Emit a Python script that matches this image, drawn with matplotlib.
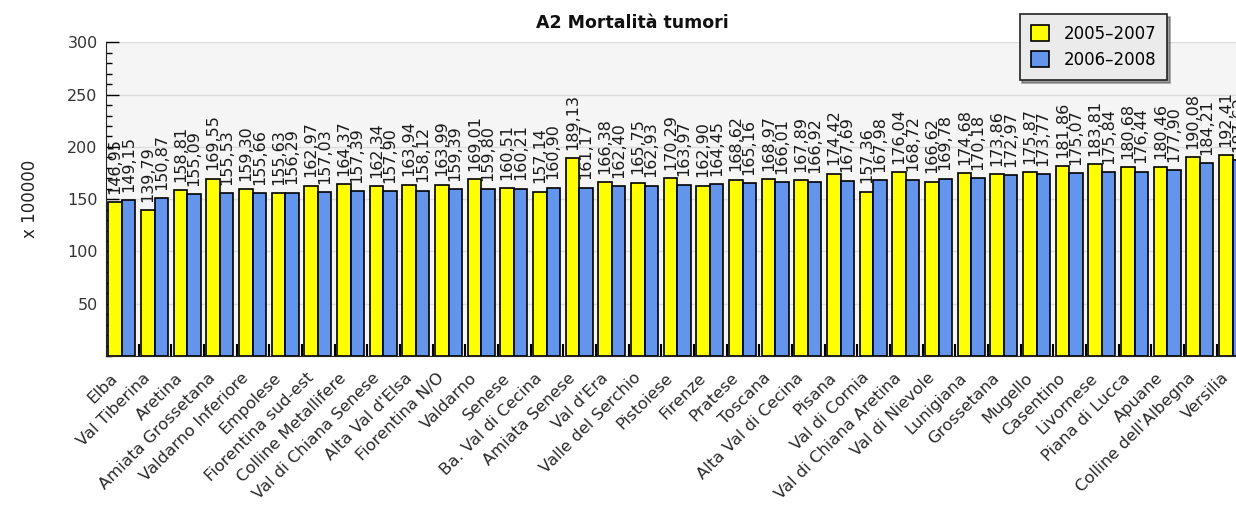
import numpy as np
from matplotlib import pyplot as plt
from matplotlib.ticker import MultipleLocator, FixedLocator
from matplotlib.transforms import ScaledTranslation

# data
zones = ["Elba", "Val Tiberina", "Aretina", "Amiata Grossetana", "Valdarno Inferiore",
         "Empolese", "Fiorentina sud-est", "Colline Metallifere", "Val di Chiana Senese",
         "Alta Val d'Elsa", "Fiorentina N/O", "Valdarno", "Senese", "Ba. Val di Cecina",
         "Amiata Senese", "Val d'Era", "Valle del Serchio", "Pistoiese", "Firenze",
         "Pratese", "Toscana", "Alta Val di Cecina", "Pisana", "Val di Cornia",
         "Val di Chiana Aretina", "Val di Nievole", "Lunigiana", "Grossetana", "Mugello",
         "Casentino", "Livornese", "Piana di Lucca", "Apuane", "Colline dell'Albegna",
         "Versilia"]
rate_0507 = [146.95, 139.79, 158.81, 169.55, 159.30, 155.63, 162.97, 164.37, 162.34,
             163.94, 163.99, 169.01, 160.51, 157.14, 189.13, 166.38, 165.75, 170.29,
             162.90, 168.62, 168.97, 167.89, 174.42, 157.36, 176.04, 166.62, 174.68,
             173.86, 175.87, 181.86, 183.81, 180.68, 180.46, 190.08, 192.41]
rate_0608 = [149.15, 150.87, 155.09, 155.53, 155.66, 156.29, 157.03, 157.39, 157.90,
             158.12, 159.39, 159.80, 160.21, 160.90, 161.17, 162.40, 162.93, 163.97,
             164.45, 165.16, 166.01, 166.92, 167.69, 167.98, 168.72, 169.78, 170.18,
             172.97, 173.77, 175.07, 175.84, 176.44, 177.90, 184.21, 187.62]
series_names = ["2005\u20132007", "2006\u20132008"]
yellow = "#ffff00"
blue = "#6495ed"

fig = plt.figure(figsize=(12.36, 5.15), dpi=100)
ax = fig.add_axes([0.0858, 0.3087, 0.925, 0.609])
ax.set_facecolor("#f5f5f5")

x = np.arange(len(zones))
w = 0.41
b1 = ax.bar(x - 0.22, rate_0507, w, color=yellow, edgecolor="black", linewidth=1.2,
            label=series_names[0], zorder=3)
b2 = ax.bar(x + 0.19, rate_0608, w, color=blue, edgecolor="black", linewidth=1.2,
            label=series_names[1], zorder=3)

# rotated value labels, italian decimal comma
for bars, vals in ((b1, rate_0507), (b2, rate_0608)):
    for r, v in zip(bars, vals):
        ax.annotate(f"{v:.2f}".replace(".", ","), (r.get_x() + r.get_width() / 2, v),
                    xytext=(0, 6), textcoords="offset points", rotation=90,
                    ha="center", va="bottom", fontsize=11.5, color="#1a1a1a", zorder=4)

ax.set_xlim(-0.5, len(zones) - 0.5)
ax.set_ylim(0, 300)
ax.yaxis.set_major_locator(FixedLocator([50, 100, 150, 200, 250, 300]))
ax.yaxis.set_minor_locator(MultipleLocator(10))
ax.grid(axis="y", which="major", color="#dcdcdc", linewidth=1, zorder=0)
ax.tick_params(axis="y", which="major", direction="in", length=9, width=1,
               labelsize=11.5, labelcolor="#333333", pad=6)
ax.tick_params(axis="y", which="minor", direction="in", length=4, width=1)

ax.set_xticks(x)
ax.set_xticklabels(zones, rotation=45, ha="right", va="center", rotation_mode="anchor",
                   fontsize=11.8, color="#2a2a2a")
ax.tick_params(axis="x", which="major", length=0, pad=14)
shift = ScaledTranslation(-7 / 100, 0, fig.dpi_scale_trans)
for lab in ax.get_xticklabels():
    lab.set_transform(lab.get_transform() + shift)
ax.xaxis.set_minor_locator(FixedLocator(x[:-1] + 0.5))
ax.tick_params(axis="x", which="minor", direction="in", length=9, width=1.5)

for s in ("top", "right"):
    ax.spines[s].set_visible(False)
ax.spines["left"].set_color("#222222")
ax.spines["bottom"].set_color("#222222")

ax.set_ylabel("x 100000", fontsize=12, color="#222222", labelpad=20)
fig.text(0.512, 0.955, "A2 Mortalit\u00e0 tumori", ha="center", va="center",
         fontsize=12.5, fontweight="bold", color="#111111")

leg = fig.legend(handles=[b1, b2], loc="upper left", bbox_to_anchor=(0.825, 0.973),
                 borderaxespad=0, frameon=True, fancybox=False, shadow=True,
                 fontsize=12, handlelength=1.1, handleheight=1.1, borderpad=0.65,
                 labelspacing=0.5, handletextpad=0.9)
leg.get_frame().set_facecolor("#ebebeb")
leg.get_frame().set_edgecolor("#222222")
leg.get_frame().set_linewidth(1.2)

fig.savefig("out.png", dpi=100)
